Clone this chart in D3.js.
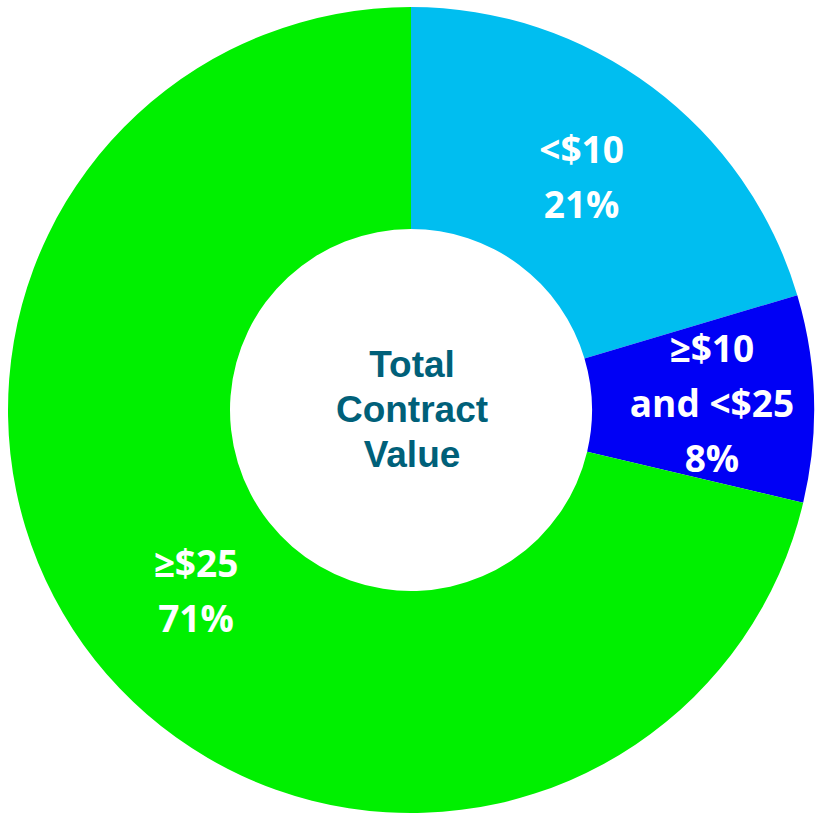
<!DOCTYPE html>
<html>
<head>
<meta charset="utf-8">
<script src="https://cdn.jsdelivr.net/npm/d3@7"></script>
<style>
  html, body { margin: 0; padding: 0; background: #fff; }
  svg { display: block; }
  .slice-label { font-family: "Open Sans", Lato, sans-serif; font-weight: 700; fill: #fff; }
  .center-label { font-family: "Liberation Sans", Arial, sans-serif; font-weight: 700; fill: #006079; }
</style>
</head>
<body>
<svg id="chart" width="820" height="815"></svg>
<script>
// Total contract value share by bucket (slice sizes)
const categories = ["<$10", "≥$10 and <$25", "≥$25"];
const shares = [20.4, 8.3, 71.3];
const labelLines = [["<$10", "21%"], ["≥$10", "and <$25", "8%"], ["≥$25", "71%"]];
const sliceColors = ["#00BEF0", "#0000F5", "#00F000"];
const centerLines = ["Total", "Contract", "Value"];

(function () {
  const svg = d3.select("#chart");
  const cx = 411, cy = 410;
  const outerR = 403, innerR = 181;

  const data = categories.map((c, i) => ({ name: c, value: shares[i], lines: labelLines[i], color: sliceColors[i] }));

  const pie = d3.pie().value(d => d.value).sort(null);
  const arc = d3.arc().innerRadius(innerR).outerRadius(outerR);

  const g = svg.append("g").attr("transform", `translate(${cx},${cy})`);
  const arcs = pie(data);

  g.selectAll("path.slice")
    .data(arcs)
    .join("path")
    .attr("class", "slice")
    .attr("d", arc)
    .attr("fill", d => d.data.color);

  // labels at centroid, small nudges to match the original placement
  const nudge = [[-4, 2], [9, 2], [14, 0]];
  const lineH = 55;
  g.selectAll("text.slice-label")
    .data(arcs)
    .join("text")
    .attr("class", "slice-label")
    .attr("text-anchor", "middle")
    .attr("font-size", 37)
    .each(function (d, i) {
      const [x, y] = arc.centroid(d);
      const n = d.data.lines.length;
      const t = d3.select(this);
      d.data.lines.forEach((line, j) => {
        t.append("tspan")
          .attr("x", x + nudge[i][0])
          .attr("y", y + nudge[i][1] + (j - (n - 1) / 2) * lineH)
          .attr("dy", "0.35em")
          .text(line);
      });
    });

  const ct = g.append("text")
    .attr("class", "center-label")
    .attr("text-anchor", "middle")
    .attr("font-size", 37);
  centerLines.forEach((line, j) => {
    ct.append("tspan")
      .attr("x", 1)
      .attr("y", (j - 1) * 45 - 1)
      .attr("dy", "0.35em")
      .text(line);
  });
})();
</script>
</body>
</html>
